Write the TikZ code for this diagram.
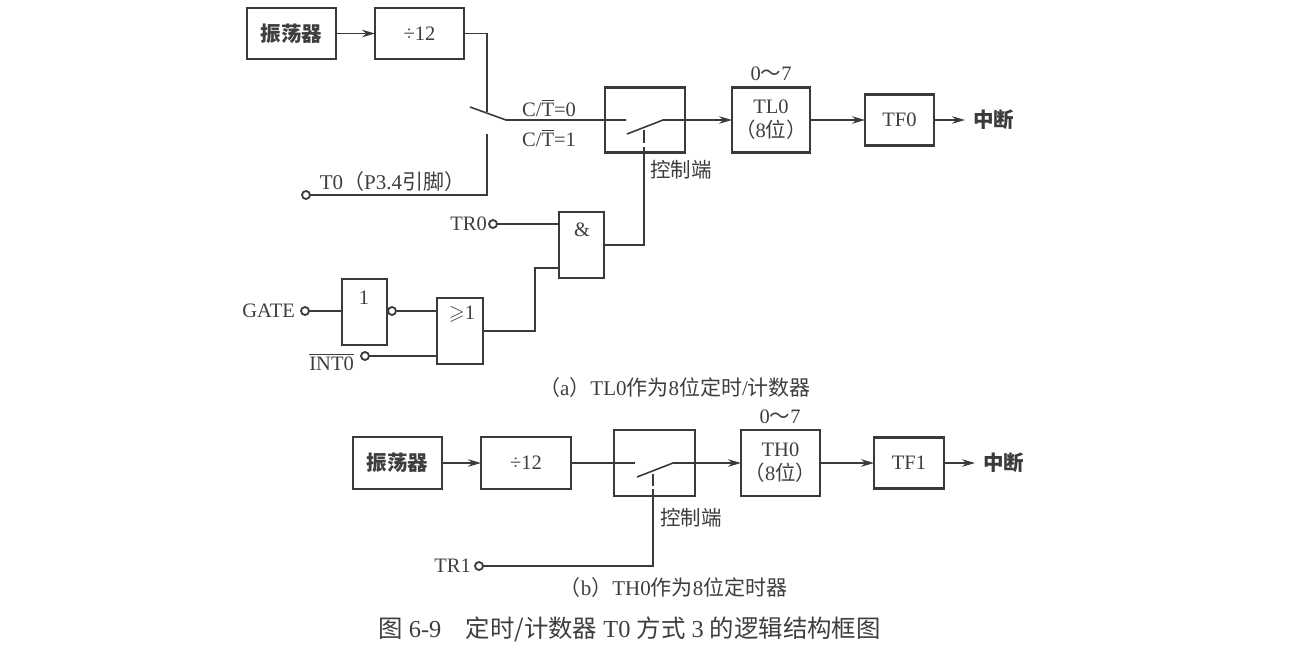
\documentclass[tikz,border=0pt]{standalone}
\usepackage{fontspec}
\usepackage{amssymb}
\setmainfont{Liberation Serif}
\newfontfamily\cjk{Noto Sans CJK SC}
\usetikzlibrary{arrows.meta}
\definecolor{ink}{HTML}{3A3A3A}
\definecolor{txt}{HTML}{3E3E3E}
\tikzset{
  blk/.style={draw=ink,line width=2.4pt,inner sep=0pt,outer sep=0pt,text=txt,font=\fontsize{20.5}{24}\selectfont,align=center},
  gatebox/.style={draw=ink,line width=2.3pt,inner sep=0pt,outer sep=0pt},
  wire/.style={draw=ink,line width=1.6pt,line join=miter},
  arr/.style={wire,-{Stealth[length=13pt,width=7.5pt]}},
  pin/.style={circle,draw=ink,line width=1.8pt,fill=white,minimum size=8pt,inner sep=0pt,outer sep=0pt},
  lbl/.style={text=txt,inner sep=0pt,font=\fontsize{20.5}{24}\selectfont},
  cn/.style={text=ink,inner sep=0pt,font=\cjk\fontsize{20.5}{24}\selectfont},
  captxt/.style={text=txt,inner sep=0pt,font=\fontsize{21}{24}\selectfont},
}
\begin{document}
\begin{tikzpicture}[x=1pt,y=-1pt]
\useasboundingbox (0,0) rectangle (1292,651);
% ---- part a
\node[blk,minimum width=89pt,minimum height=51pt] (osca) at (291.5,33.5) {\cjk\bfseries 振荡器};
\node[blk,minimum width=89pt,minimum height=51pt] (diva) at (419.5,33.5) {÷12};
\coordinate (swtop) at (487,112);
\coordinate (bladeA) at (470,107);
\coordinate (bladeB) at (506,120);
\coordinate (swbot) at (487,134);
\node[blk,minimum width=80pt,minimum height=65pt] (ctla) at (645,120) {};
\coordinate (inA) at (626,120);
\coordinate (bl2A) at (627,134);
\coordinate (bl2B) at (663,120);
\node[blk,minimum width=78pt,minimum height=65pt] (tl) at (771,120) {TL0\\{\cjk（}8{\cjk 位}{\cjk ）}};
\node[blk,minimum width=69pt,minimum height=51pt] (tf0) at (899.5,120) {TF0};
\coordinate (intA) at (965,120);
\node[cn,anchor=west] (zda) at (973,120) {\bfseries 中断};
\node[lbl] (rng1) at (771,74) {0{\cjk ～}7};
\node[pin] (t0) at (306,195) {};
\draw[wire] (diva.east) -- (487,33.5) -- (swtop);
\draw[wire] (bladeA) -- (bladeB) -- (inA);
\draw[wire] (swbot) -- (487,195) -- (t0.east);
\draw[wire] (bl2A) -- (bl2B) -- (ctla.east);
\draw[arr] (ctla.east) -- (tl.west);
\draw[arr] (tl.east) -- (tf0.west);
\draw[arr] (tf0.east) -- (intA);
\node[lbl] (c0) at (549,108) {C/$\overline{\hbox{T}}$=0};
\node[lbl] (c1) at (549,138) {C/$\overline{\hbox{T}}$=1};
\node[captxt] (t0l) at (392.5,182) {T0{\cjk（}P3.4{\cjk 引脚）}};
\node[cn,anchor=west] (ctrla) at (650,170) {控制端};
% gates
\node[gatebox,minimum width=45pt,minimum height=66pt] (andg) at (581.5,245) {};
\node[lbl] (andl) at (582,230) {\&};
\node[gatebox,minimum width=45pt,minimum height=66pt] (invg) at (364.5,312) {};
\node[lbl] (invl) at (364,298) {1};
\node[gatebox,minimum width=46pt,minimum height=66pt] (org) at (460,331) {};
\node[lbl] (orl) at (462,314) {$\geqslant$1};
\node[pin] (tr0) at (493,224) {};
\node[lbl,anchor=east] (tr0l) at (487,224) {TR0};
\node[pin] (gate) at (305,311) {};
\node[lbl,anchor=east] (gatel) at (295,311) {GATE};
\node[pin] (bub) at (392,311) {};
\node[pin] (int0) at (365,356) {};
\node[lbl,anchor=east] (int0l) at (354,362) {$\overline{\hbox{INT0}}$};
\draw[wire] (tr0.east) -- (tr0.east -| andg.west);
\draw[wire] (gate.east) -- (gate.east -| invg.west);
\draw[wire] (bub.east) -- (bub.east -| org.west);
\draw[wire] (int0.east) -- (int0.east -| org.west);
\draw[wire] (org.east) -- (535,331) -- (535,268) -- (559,268);
\draw[wire] (andg.east) -- (644,245) -- (644,147);
\draw[wire] (644,130) -- (644,143);
\node[captxt] (capa) at (675,388) {{\cjk（}a{\cjk ）}TL0{\cjk 作为}8{\cjk 位定时}/{\cjk 计数器}};
% ---- part b
\node[blk,minimum width=89pt,minimum height=52pt] (oscb) at (397.5,463) {\cjk\bfseries 振荡器};
\node[blk,minimum width=90pt,minimum height=52pt] (divb) at (526,463) {÷12};
\node[blk,minimum width=81pt,minimum height=66pt] (ctlb) at (654.5,463) {};
\node[blk,minimum width=79pt,minimum height=66pt] (th) at (780.5,463) {TH0\\{\cjk（}8{\cjk 位}{\cjk ）}};
\node[blk,minimum width=70pt,minimum height=51pt] (tf1) at (909,463) {TF1};
\coordinate (inB) at (635,463);
\coordinate (bl3A) at (637,477);
\coordinate (bl3B) at (673,463);
\coordinate (intB) at (975,463);
\node[cn,anchor=west] (zdb) at (983,463) {\bfseries 中断};
\node[lbl] (rng2) at (780,417) {0{\cjk ～}7};
\draw[arr] (oscb.east) -- (divb.west);
\draw[wire] (divb.east) -- (inB);
\draw[wire] (bl3A) -- (bl3B) -- (ctlb.east);
\draw[arr] (ctlb.east) -- (th.west);
\draw[arr] (th.east) -- (tf1.west);
\draw[arr] (tf1.east) -- (intB);
\draw[arr] (osca.east) -- (diva.west);
\node[pin] (tr1) at (479,566) {};
\node[lbl,anchor=east] (tr1l) at (471,566) {TR1};
\draw[wire] (653,474) -- (653,486);
\draw[wire] (653,489) -- (653,566) -- (tr1.east);
\node[cn,anchor=west] (ctrlb) at (660,518) {控制端};
\node[captxt] (capb) at (673.5,588) {{\cjk（}b{\cjk ）}TH0{\cjk 作为}8{\cjk 位定时器}};
\node[text=txt,inner sep=0pt,font=\fontsize{24.4}{28}\selectfont] (fig) at (629.5,629) {{\cjk 图} 6-9\hspace{1em}{\cjk 定时/计数器} T0 {\cjk 方式} 3 {\cjk 的逻辑结构框图}};
\end{tikzpicture}
\end{document}
